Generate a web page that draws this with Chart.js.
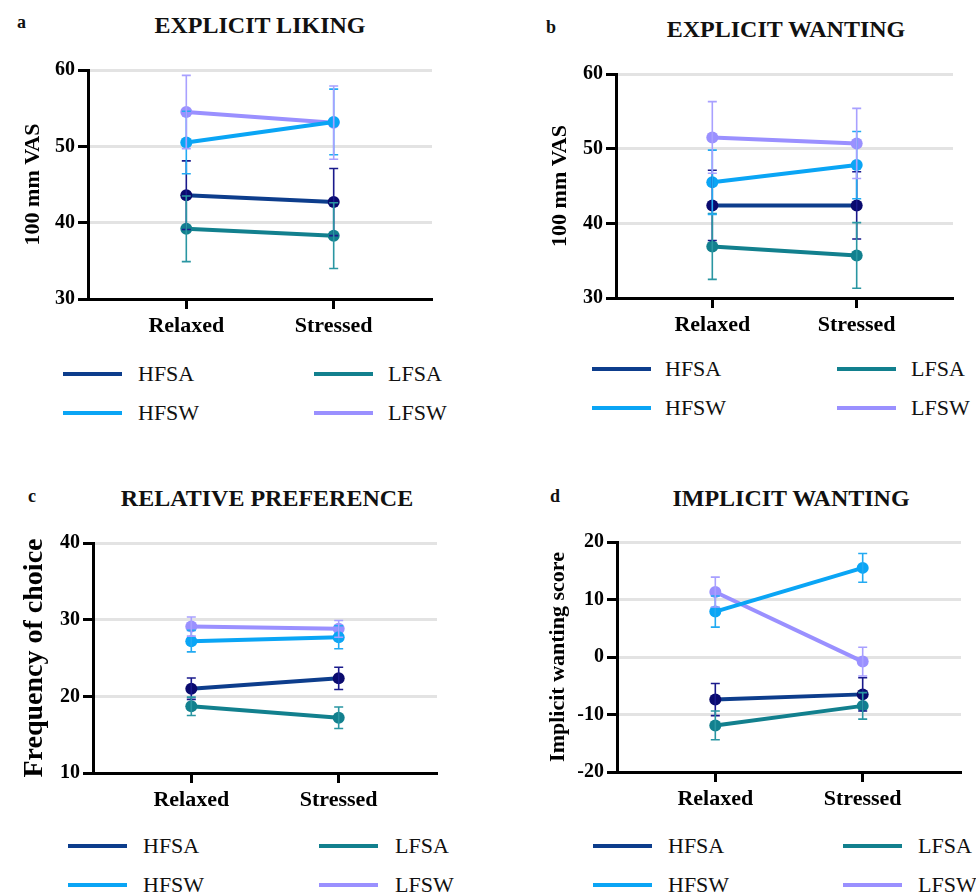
<!DOCTYPE html>
<html>
<head>
<meta charset="utf-8">
<script src="https://cdn.jsdelivr.net/npm/chart.js@4.4.1/dist/chart.umd.min.js"></script>
<style>
  body { margin: 0; background: #fff; }
  #page { position: relative; width: 976px; height: 895px; overflow: hidden; font-family: 'Liberation Serif', serif; color: #111; }
  .abs { position: absolute; white-space: nowrap; font-family: 'Liberation Serif', serif; }
  .letter { font-size: 18px; font-weight: bold; line-height: 18px; }
  .title { font-size: 24px; font-weight: bold; line-height: 24px; transform: translateX(-50%); }
  .leg-line { position: absolute; height: 4px; width: 59px; }
  .leg-text { font-size: 22px; line-height: 22px; }
  canvas { position: absolute; }
</style>
</head>
<body>
<div id="page"></div>
<script>
const categories = ['Relaxed', 'Stressed']
const groups = ['HFSA', 'LFSA', 'HFSW', 'LFSW']

// mean and SEM per group (same order as groups), Relaxed then Stressed
const likingMean = [[43.6, 42.7], [39.2, 38.3], [50.5, 53.2], [54.5, 53.1]]
const likingSem = [[4.5, 4.4], [4.3, 4.3], [4.1, 4.3], [4.8, 4.8]]
const wantingMean = [[42.4, 42.4], [36.9, 35.7], [45.5, 47.8], [51.5, 50.7]]
const wantingSem = [[4.7, 4.5], [4.4, 4.4], [4.3, 4.5], [4.8, 4.7]]
const preferenceMean = [[21.0, 22.35], [18.7, 17.2], [27.2, 27.7], [29.1, 28.8]]
const preferenceSem = [[1.4, 1.45], [1.2, 1.4], [1.4, 1.5], [1.25, 1.1]]
const implicitMean = [[-7.4, -6.5], [-11.9, -8.5], [7.9, 15.5], [11.3, -0.8]]
const implicitSem = [[2.8, 2.9], [2.5, 2.3], [2.7, 2.5], [2.6, 2.5]]

const lineColors = ['#0d3d8c', '#12808e', '#0aa5f5', '#9a90ff']
const pointColors = ['#0a0a6e', '#12808e', '#0aa5f5', '#9a90ff']
const errColors = ['#1a1a8c', '#2a96a2', '#22aaf2', '#a8a0ff']

Chart.defaults.font.family = "'Liberation Serif', serif"

const page = document.getElementById('page')

const panels = [
  {
    letter: 'a', letterPos: [17, 13], title: 'EXPLICIT LIKING', titlePos: [260, 13],
    canvas: [0, 45, 476, 310], area: [88, 70, 432, 299],
    yMin: 30, yMax: 60, yTitle: '100 mm VAS', yTitleSize: 22, yTitleX: 33,
    means: likingMean, sems: likingSem,
    legend: { lineX: [63, 314], textX: [138, 388], rowY: [374, 413] },
  },
  {
    letter: 'b', letterPos: [546, 18], title: 'EXPLICIT WANTING', titlePos: [786, 17],
    canvas: [488, 45, 488, 310], area: [616, 74, 953, 298],
    yMin: 30, yMax: 60, yTitle: '100 mm VAS', yTitleSize: 22, yTitleX: 560,
    means: wantingMean, sems: wantingSem,
    legend: { lineX: [592, 837], textX: [665, 911], rowY: [369, 408] },
  },
  {
    letter: 'c', letterPos: [28, 487], title: 'RELATIVE PREFERENCE', titlePos: [267, 486],
    canvas: [0, 515, 476, 310], area: [93, 543, 437, 773],
    yMin: 10, yMax: 40, yTitle: 'Frequency of choice', yTitleSize: 28, yTitleX: 35,
    means: preferenceMean, sems: preferenceSem,
    legend: { lineX: [68, 319], textX: [143, 395], rowY: [846, 885] },
  },
  {
    letter: 'd', letterPos: [550, 487], title: 'IMPLICIT WANTING', titlePos: [791, 486],
    canvas: [488, 515, 488, 310], area: [617, 542, 961, 772],
    yMin: -20, yMax: 20, yTitle: 'Implicit wanting score', yTitleSize: 22, yTitleX: 558,
    means: implicitMean, sems: implicitSem,
    legend: { lineX: [593, 843], textX: [668, 918], rowY: [846, 885] },
  },
]

// draws mean ± SEM whiskers from each dataset's sem array
const errorBars = {
  id: 'errorBars',
  afterDatasetsDraw(chart) {
    const { ctx } = chart
    const y = chart.scales.y
    ctx.save()
    ctx.lineWidth = 1.6
    chart.data.datasets.forEach((ds, i) => {
      const meta = chart.getDatasetMeta(i)
      ctx.strokeStyle = ds.errColor
      meta.data.forEach((pt, j) => {
        const v = ds.data[j].y
        const e = ds.sem[j]
        const top = y.getPixelForValue(v + e)
        const bot = y.getPixelForValue(v - e)
        ctx.beginPath()
        ctx.moveTo(pt.x, top); ctx.lineTo(pt.x, bot)
        ctx.moveTo(pt.x - 4.5, top); ctx.lineTo(pt.x + 4.5, top)
        ctx.moveTo(pt.x - 4.5, bot); ctx.lineTo(pt.x + 4.5, bot)
        ctx.stroke()
      })
    })
    ctx.restore()
  },
}

function addText(cls, text, left, top) {
  const el = document.createElement('div')
  el.className = 'abs ' + cls
  el.textContent = text
  el.style.left = left + 'px'
  el.style.top = top + 'px'
  page.appendChild(el)
  return el
}

function addLegend(legend) {
  groups.forEach((g, i) => {
    const row = Math.floor(i / 2)
    const col = i % 2
    const line = document.createElement('div')
    line.className = 'leg-line'
    line.style.background = lineColors[i]
    line.style.left = legend.lineX[col] + 'px'
    line.style.top = (legend.rowY[row] - 2) + 'px'
    page.appendChild(line)
    addText('leg-text', g, legend.textX[col], legend.rowY[row] - 11)
  })
}

function buildPanel(p) {
  addText('letter', p.letter, p.letterPos[0], p.letterPos[1])
  addText('title', p.title, p.titlePos[0], p.titlePos[1])
  addLegend(p.legend)

  const [cx, cy, cw, ch] = p.canvas
  const [al, at, ar, ab] = p.area
  const xAxisHeight = 50
  const canvas = document.createElement('canvas')
  canvas.width = cw
  canvas.height = ch
  canvas.style.left = cx + 'px'
  canvas.style.top = cy + 'px'
  page.appendChild(canvas)

  const datasets = groups.map((g, i) => ({
    label: g,
    data: p.means[i].map((v, j) => ({ x: j, y: v })),
    sem: p.sems[i],
    errColor: errColors[i],
    borderColor: lineColors[i],
    backgroundColor: pointColors[i],
    pointBackgroundColor: pointColors[i],
    pointBorderWidth: 0,
    pointRadius: 6,
    borderWidth: 4,
    tension: 0,
  }))

  return new Chart(canvas, {
    type: 'line',
    data: { datasets },
    options: {
      responsive: false,
      animation: false,
      devicePixelRatio: 1,
      layout: {
        padding: { top: at - cy, left: 0, right: cx + cw - ar, bottom: cy + ch - ab - xAxisHeight },
      },
      plugins: { legend: { display: false }, tooltip: { enabled: false } },
      scales: {
        x: {
          type: 'linear',
          min: -0.667,
          max: 1.667,
          afterBuildTicks: (s) => { s.ticks = categories.map((c, i) => ({ value: i })) },
          afterFit: (s) => { s.height = xAxisHeight },
          ticks: {
            callback: (v) => categories[v],
            font: { size: 22, weight: 'bold' },
            color: '#000',
            padding: 4,
            maxRotation: 0,
          },
          grid: { drawOnChartArea: false, tickLength: 10, tickWidth: 3, tickColor: '#000' },
          border: { color: '#000', width: 3 },
        },
        y: {
          min: p.yMin,
          max: p.yMax,
          afterFit: (s) => { s.width = al - cx },
          ticks: { stepSize: 10, font: { size: 20, weight: 'bold' }, color: '#000', padding: 3 },
          grid: {
            color: (c) => (c.tick && c.tick.value === p.yMin ? 'rgba(0,0,0,0)' : '#e3e3e3'),
            lineWidth: 3,
            tickLength: 10,
            tickWidth: 3,
            tickColor: '#000',
          },
          border: { color: '#000', width: 3 },
          title: {
            display: true,
            text: p.yTitle,
            color: '#000',
            font: { size: p.yTitleSize, weight: 'bold' },
            padding: { top: p.yTitleX - cx - (p.yTitleSize * 1.2) / 2, bottom: 0 },
          },
        },
      },
    },
    plugins: [errorBars],
  })
}

panels.forEach(buildPanel)
</script>
</body>
</html>
